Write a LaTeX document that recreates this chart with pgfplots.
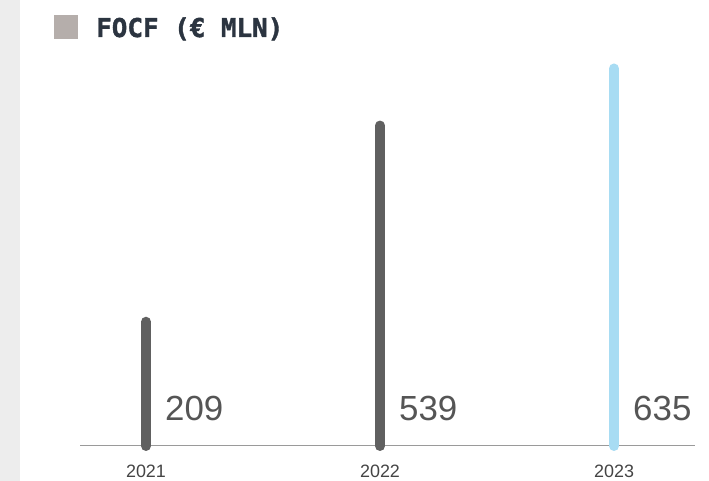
\documentclass[border=0pt]{standalone}
\usepackage{fontspec}
\setmainfont{Liberation Sans}
\newfontfamily\titlefont[BoldFeatures={RawFeature={embolden=1.5}}]{DejaVu Sans Mono}
\usepackage{pgfplots}
\pgfplotsset{compat=1.18}
\definecolor{darkbar}{HTML}{606060}
\definecolor{lightbar}{HTML}{A8DCF3}
\definecolor{strip}{HTML}{EDEDED}
\definecolor{titlec}{HTML}{2B3440}
\definecolor{squarec}{HTML}{B5AEAB}
\definecolor{basec}{HTML}{9A9A9A}
\definecolor{valc}{HTML}{555555}
\definecolor{yearc}{HTML}{444444}
\begin{document}
\begin{tikzpicture}[x=1bp,y=1bp]
\path[use as bounding box] (0,0) rectangle (709,481);
\fill[strip] (0,0) rectangle (20,481);
\fill[squarec] (54,442) rectangle (78,466);
\node[anchor=base west, inner sep=0, text=titlec, font=\titlefont\bfseries\fontsize{26}{30}\selectfont] at (96,444) {FOCF (€ MLN)};
\begin{axis}[at={(80bp,35bp)}, anchor=south west, scale only axis,
  width=615bp, height=412bp,
  xmin=-0.282, xmax=2.346, ymin=0, ymax=693, clip=false,
  hide y axis, axis x line=bottom, axis line style={draw=none},
  xtick={0,1,2}, xticklabels={2021,2022,2023}, major tick length=0,
  xticklabel style={anchor=base, yshift=-32bp, text=yearc, font=\fontsize{18}{20}\selectfont}]
\draw[basec, line width=1bp] (axis cs:-0.282,0) -- (axis cs:2.346,0);
\addplot[ycomb, mark=none, darkbar, line width=10bp, line cap=round] coordinates {(0,209) (1,539)};
\addplot[ycomb, mark=none, lightbar, line width=10bp, line cap=round] coordinates {(2,635)};
\node[anchor=base west, inner sep=0, text=valc, font=\fontsize{35}{38}\selectfont] at ([xshift=19bp,yshift=25bp]axis cs:0,0) {209};
\node[anchor=base west, inner sep=0, text=valc, font=\fontsize{35}{38}\selectfont] at ([xshift=19bp,yshift=25bp]axis cs:1,0) {539};
\node[anchor=base west, inner sep=0, text=valc, font=\fontsize{35}{38}\selectfont] at ([xshift=19bp,yshift=25bp]axis cs:2,0) {635};
\end{axis}
\end{tikzpicture}
\end{document}
